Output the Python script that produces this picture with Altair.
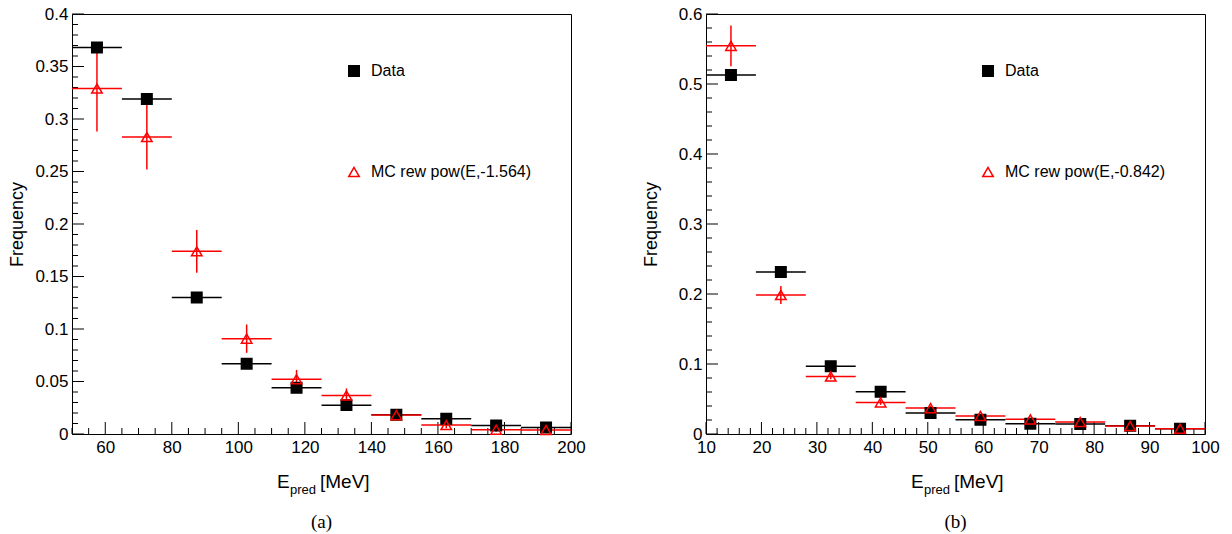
import altair as alt
import pandas as pd

# ---------------- Panel (a) ----------------
a_centers = [57.5, 72.5, 87.5, 102.5, 117.5, 132.5, 147.5, 162.5, 177.5, 192.5]
a_half = 7.5
a_data = [0.368, 0.319, 0.130, 0.067, 0.044, 0.0275, 0.0184, 0.0146, 0.0082, 0.0063]
a_data_err = [0.004, 0.004, 0.0025, 0.002, 0.0015, 0.0012, 0.001, 0.0009, 0.0007, 0.0006]
a_mc = [0.329, 0.2828, 0.174, 0.0908, 0.0522, 0.0367, 0.018, 0.0085, 0.0041, 0.0038]
a_mc_err = [0.041, 0.031, 0.0204, 0.0135, 0.0088, 0.0067, 0.004, 0.003, 0.002, 0.0018]
a_mc_label = "MC rew pow(E,-1.564)"
a_x_domain = [50, 200]
a_x_labels = [60, 80, 100, 120, 140, 160, 180, 200]
a_y_domain = [0, 0.4]
a_y_labels = [0, 0.05, 0.1, 0.15, 0.2, 0.25, 0.3, 0.35, 0.4]

# ---------------- Panel (b) ----------------
b_centers = [14.5, 23.5, 32.5, 41.5, 50.5, 59.5, 68.5, 77.5, 86.5, 95.5]
b_half = 4.5
b_data = [0.5129, 0.2314, 0.0969, 0.0603, 0.030, 0.0204, 0.0147, 0.0143, 0.0119, 0.0076]
b_data_err = [0.005, 0.004, 0.0025, 0.002, 0.0015, 0.0012, 0.001, 0.001, 0.0009, 0.0007]
b_mc = [0.5545, 0.1986, 0.0822, 0.0451, 0.037, 0.0257, 0.0209, 0.0171, 0.0114, 0.0076]
b_mc_err = [0.029, 0.013, 0.004, 0.0035, 0.003, 0.0028, 0.0025, 0.002, 0.0018, 0.0015]
b_mc_label = "MC rew pow(E,-0.842)"
b_x_domain = [10, 100]
b_x_labels = [10, 20, 30, 40, 50, 60, 70, 80, 90, 100]
b_y_domain = [0, 0.6]
b_y_labels = [0, 0.1, 0.2, 0.3, 0.4, 0.5, 0.6]

FONT = "Liberation Sans"
RED = "#ff0000"
W, H = 499, 420
MAJOR, MINOR = 12, 6


def frame(centers, half, data, derr, mc, merr, mclabel):
    rows = []
    for c, v, e in zip(centers, data, derr):
        rows.append(dict(series="Data", x=c, xlo=c - half, xhi=c + half, y=v, ylo=v - e, yhi=v + e))
    for c, v, e in zip(centers, mc, merr):
        rows.append(dict(series=mclabel, x=c, xlo=c - half, xhi=c + half, y=v, ylo=max(v - e, 0), yhi=v + e))
    return pd.DataFrame(rows)


def seq(lo, hi, step):
    n = int(round((hi - lo) / step))
    return [round(lo + i * step, 6) for i in range(n + 1)]


def panel(df, mclabel, xdom, xlabels, xminor, ydom, ylabels, yminor, caption, tpad):
    xs = alt.Scale(domain=xdom, nice=False, zero=False)
    ys = alt.Scale(domain=ydom, nice=False, zero=False)
    x_minor = [v for v in seq(xdom[0], xdom[1], xminor) if all(abs(v - m) > 1e-9 for m in xlabels)]
    y_minor = [v for v in seq(ydom[0], ydom[1], yminor) if all(abs(v - m) > 1e-9 for m in ylabels)]
    series_dom = ["Data", mclabel]
    color = alt.Scale(domain=series_dom, range=["black", RED])
    shape = alt.Scale(domain=series_dom, range=["square", "triangle-up"])
    fill = alt.Scale(domain=series_dom, range=["black", "transparent"])

    lab_x = alt.Axis(values=xlabels, ticks=False, domain=False, grid=False, title=None,
                     labelFont=FONT, labelFontSize=17, labelColor="black", labelPadding=5,
                     format="d", labelFlush=False, labelOverlap=False)
    lab_y = alt.Axis(values=ylabels, ticks=False, domain=False, grid=False, title="Frequency",
                     labelFont=FONT, labelFontSize=17, labelColor="black", labelPadding=4,
                     format="~g", labelFlush=False, labelOverlap=False,
                     titleFont=FONT, titleFontSize=18, titleFontWeight="normal", titleColor="black",
                     titlePadding=tpad)
    X = lambda f: alt.X(f, scale=xs, axis=lab_x)
    Y = lambda f: alt.Y(f, scale=ys, axis=lab_y)

    layers = []
    # inward-pointing axis ticks (ROOT style), drawn from the tick arrays through the scales
    for vals, size in [(xlabels, MAJOR), (x_minor, MINOR)]:
        layers.append(alt.Chart(pd.DataFrame({"v": vals})).mark_tick(
            orient="vertical", size=size, thickness=1, color="black", opacity=1, yOffset=-size / 2
        ).encode(x=X("v:Q"), y=alt.value(H)))
    for vals, size in [(ylabels, MAJOR), (y_minor, MINOR)]:
        layers.append(alt.Chart(pd.DataFrame({"v": vals})).mark_tick(
            orient="horizontal", size=size, thickness=1, color="black", opacity=1, xOffset=size / 2
        ).encode(y=Y("v:Q"), x=alt.value(0)))

    base = alt.Chart(df)
    for s, col in [("Data", "black"), (mclabel, RED)]:
        layers.append(base.transform_filter(alt.datum.series == s).mark_rule(strokeWidth=1.5, color=col).encode(
            x=X("xlo:Q"), x2="xhi:Q", y=Y("y:Q"),
        ))
    for s, col in [("Data", "black"), (mclabel, RED)]:
        layers.append(base.transform_filter(alt.datum.series == s).mark_rule(strokeWidth=1.5, color=col).encode(
            x=X("x:Q"), y=Y("ylo:Q"), y2="yhi:Q",
        ))
    leg = alt.Legend(orient="none", legendX=274, legendY=49, title=None, labelFont=FONT,
                     labelFontSize=16, labelColor="black", rowPadding=84, symbolSize=110,
                     symbolStrokeWidth=1.5, labelOffset=9, padding=0, labelLimit=0)
    pts = base.mark_point(filled=False, size=110, strokeWidth=1.5, opacity=1).encode(
        x=X("x:Q"),
        y=Y("y:Q"),
        color=alt.Color("series:N", scale=color, legend=leg),
        shape=alt.Shape("series:N", scale=shape, legend=leg),
        fill=alt.Fill("series:N", scale=fill, legend=leg),
    )
    layers.append(pts)

    def txt(s, px, py, size, font=FONT, align="left"):
        return alt.Chart(pd.DataFrame({"t": [s]})).mark_text(
            font=font, fontSize=size, align=align, baseline="alphabetic", color="black"
        ).encode(x=alt.value(px), y=alt.value(py), text="t:N")

    layers += [
        txt("E", 205, 474, 19),
        txt("pred", 218, 480, 13),
        txt("[MeV]", 248, 474, 19),
        txt(caption, W / 2, 514, 19, font="Liberation Serif", align="center"),
    ]

    return alt.layer(*layers).properties(width=W, height=H)


left = panel(frame(a_centers, a_half, a_data, a_data_err, a_mc, a_mc_err, a_mc_label), a_mc_label,
             a_x_domain, a_x_labels, 5, a_y_domain, a_y_labels, 0.01, "(a)", 8)
right = panel(frame(b_centers, b_half, b_data, b_data_err, b_mc, b_mc_err, b_mc_label), b_mc_label,
              b_x_domain, b_x_labels, 2, b_y_domain, b_y_labels, 0.02, "(b)", 18)

chart = alt.hconcat(left, right, spacing=55).resolve_scale(
    x="independent", y="independent", color="independent", shape="independent", fill="independent"
).properties(
    padding={"left": 8, "top": 4, "right": 0, "bottom": 0},
    background="white",
).configure_view(stroke="black", strokeWidth=1)

chart.save("out.html", embed_options={"renderer": "svg", "actions": False})
